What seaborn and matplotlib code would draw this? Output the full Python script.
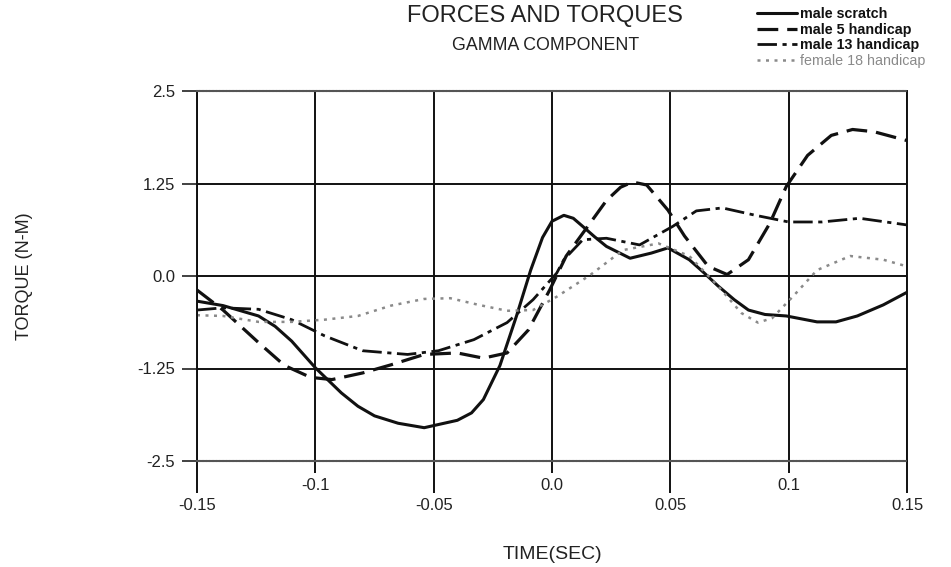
import numpy as np
import pandas as pd
import matplotlib
matplotlib.use('Agg')
import matplotlib.pyplot as plt
import seaborn as sns

# values (time in sec, torque in N-M)
t_scratch = [-0.15, -0.139, -0.124, -0.117, -0.110, -0.100, -0.089, -0.082, -0.075, -0.065,
             -0.054, -0.040, -0.034, -0.029, -0.022, -0.015, -0.009, -0.004, 0.000, 0.005,
             0.009, 0.013, 0.018, 0.023, 0.033, 0.042, 0.049, 0.058, 0.064, 0.070,
             0.077, 0.083, 0.090, 0.099, 0.112, 0.120, 0.129, 0.140, 0.150]
y_scratch = [-0.34, -0.40, -0.54, -0.68, -0.88, -1.24, -1.58, -1.76, -1.89, -1.99,
             -2.05, -1.95, -1.85, -1.67, -1.21, -0.54, 0.08, 0.52, 0.74, 0.82,
             0.78, 0.67, 0.53, 0.40, 0.24, 0.31, 0.38, 0.22, 0.05, -0.13,
             -0.32, -0.46, -0.52, -0.54, -0.62, -0.62, -0.54, -0.39, -0.22]

t_male5 = [-0.15, -0.139, -0.124, -0.113, -0.102, -0.093, -0.080, -0.068, -0.054, -0.040,
           -0.029, -0.019, -0.010, -0.001, 0.006, 0.016, 0.023, 0.029, 0.034, 0.040,
           0.049, 0.056, 0.066, 0.074, 0.083, 0.092, 0.099, 0.108, 0.118, 0.127,
           0.136, 0.150]
y_male5 = [-0.19, -0.46, -0.90, -1.21, -1.37, -1.40, -1.31, -1.20, -1.06, -1.04,
           -1.11, -1.04, -0.73, -0.19, 0.27, 0.71, 1.02, 1.20, 1.27, 1.23,
           0.89, 0.54, 0.13, 0.02, 0.22, 0.71, 1.21, 1.63, 1.90, 1.98,
           1.95, 1.83]

t_male13 = [-0.15, -0.139, -0.124, -0.110, -0.096, -0.080, -0.061, -0.048, -0.033, -0.019,
            -0.008, 0.002, 0.005, 0.013, 0.023, 0.037, 0.051, 0.061, 0.072, 0.086,
            0.100, 0.114, 0.130, 0.150]
y_male13 = [-0.46, -0.43, -0.45, -0.59, -0.81, -1.01, -1.06, -1.01, -0.86, -0.63,
            -0.32, 0.04, 0.22, 0.49, 0.51, 0.42, 0.67, 0.88, 0.92, 0.82,
            0.73, 0.73, 0.78, 0.69]

t_female18 = [-0.15, -0.139, -0.124, -0.110, -0.096, -0.082, -0.068, -0.054, -0.043, -0.031,
              -0.019, -0.008, 0.002, 0.016, 0.030, 0.045, 0.058, 0.070, 0.080, 0.087,
              0.093, 0.102, 0.112, 0.126, 0.140, 0.150]
y_female18 = [-0.53, -0.54, -0.62, -0.62, -0.59, -0.54, -0.40, -0.31, -0.30, -0.39,
              -0.47, -0.46, -0.28, 0.01, 0.35, 0.44, 0.27, -0.13, -0.50, -0.63,
              -0.57, -0.27, 0.08, 0.27, 0.22, 0.13]

labels = ['male scratch', 'male 5 handicap', 'male 13 handicap', 'female 18 handicap']
major_x = [-0.15, -0.05, 0.05, 0.15]
minor_x = [-0.1, 0.0, 0.1]
major_x_labels = ['-0.15', '-0.05', '0.05', '0.15']
minor_x_labels = ['-0.1', '0.0', '0.1']
y_ticks = [-2.5, -1.25, 0.0, 1.25, 2.5]
y_tick_labels = ['-2.5', '-1.25', '0.0', '1.25', '2.5']

sns.set_theme(style='white')
plt.rcParams['font.family'] = ['Liberation Sans', 'DejaVu Sans']

fig = plt.figure(figsize=(9.51, 5.67), dpi=100)
ax = fig.add_axes([197/951, 1-461/567, (907-197)/951, (461-91)/567])

series = [
    (t_scratch, y_scratch, '#111111', '-', 2.2),
    (t_male5, y_male5, '#111111', (0, (6.5, 2.8)), 2.3),
    (t_male13, y_male13, '#111111', (0, (7, 2, 1.5, 2)), 2.0),
    (t_female18, y_female18, '#8a8a8a', (0, (1.2, 2.2)), 1.8),
]
for (tt, yy, col, ls, lw), lab in zip(series, labels):
    df = pd.DataFrame({'t': tt, 'torque': yy})
    sns.lineplot(data=df, x='t', y='torque', ax=ax, color=col, linestyle=ls,
                 lw=lw, label=lab)

ax.set_xlim(-0.15, 0.15)
ax.set_ylim(-2.5, 2.5)

ax.set_xticks(major_x)
ax.set_xticklabels(major_x_labels)
ax.set_xticks(minor_x, minor=True)
ax.set_xticklabels(minor_x_labels, minor=True)
ax.set_yticks(y_ticks)
ax.set_yticklabels(y_tick_labels)

ax.tick_params(axis='x', which='major', direction='out', length=23, width=1.4,
               color='#111111', pad=3.5, labelsize=12, bottom=True)
ax.tick_params(axis='x', which='minor', direction='out', length=8.6, width=1.4,
               color='#111111', pad=3.5, labelsize=12, bottom=True)
ax.tick_params(axis='y', direction='out', length=10.8, width=1.3,
               color='#333333', pad=5, labelsize=12, left=True)
for lab in ax.get_xticklabels(which='both') + ax.get_yticklabels():
    lab.set_color('#222222')

ax.grid(True, axis='x', which='both', color='#111111', lw=1.4)
ax.grid(True, axis='y', which='major', color='#111111', lw=1.4)
yt = ax.yaxis.get_major_ticks()
yt[0].gridline.set_visible(False)
yt[-1].gridline.set_visible(False)

for side in ['left', 'right']:
    ax.spines[side].set_color('#111111')
    ax.spines[side].set_linewidth(1.4)
for side in ['top', 'bottom']:
    ax.spines[side].set_color('#555555')
    ax.spines[side].set_linewidth(1.5)
    ax.spines[side].set_linestyle((0, (1, 0.6)))

ax.set_xlabel('TIME(SEC)', fontsize=14, color='#222222', labelpad=24)
ax.set_ylabel('TORQUE (N-M)', fontsize=13, color='#222222', labelpad=75)

fig.text(545/951, 1-16/567, 'FORCES AND TORQUES', ha='center', va='center',
         fontsize=17, color='#222222')
fig.text(546/951, 1-46/567, 'GAMMA COMPONENT', ha='center', va='center',
         fontsize=12.8, color='#222222')

handles, labs = ax.get_legend_handles_labels()
ax.get_legend().remove()
leg = fig.legend(handles, labs, loc='upper left', bbox_to_anchor=(757/951, 1-7/567),
                 frameon=False, fontsize=10.3, handlelength=2.8, handletextpad=0.2,
                 labelspacing=0.12, borderpad=0, borderaxespad=0)
for i, txt in enumerate(leg.get_texts()):
    if i < 3:
        txt.set_fontweight('bold')
        txt.set_color('#111111')
    else:
        txt.set_color('#8a8a8a')

fig.savefig('out.png', dpi=100, facecolor='white')
